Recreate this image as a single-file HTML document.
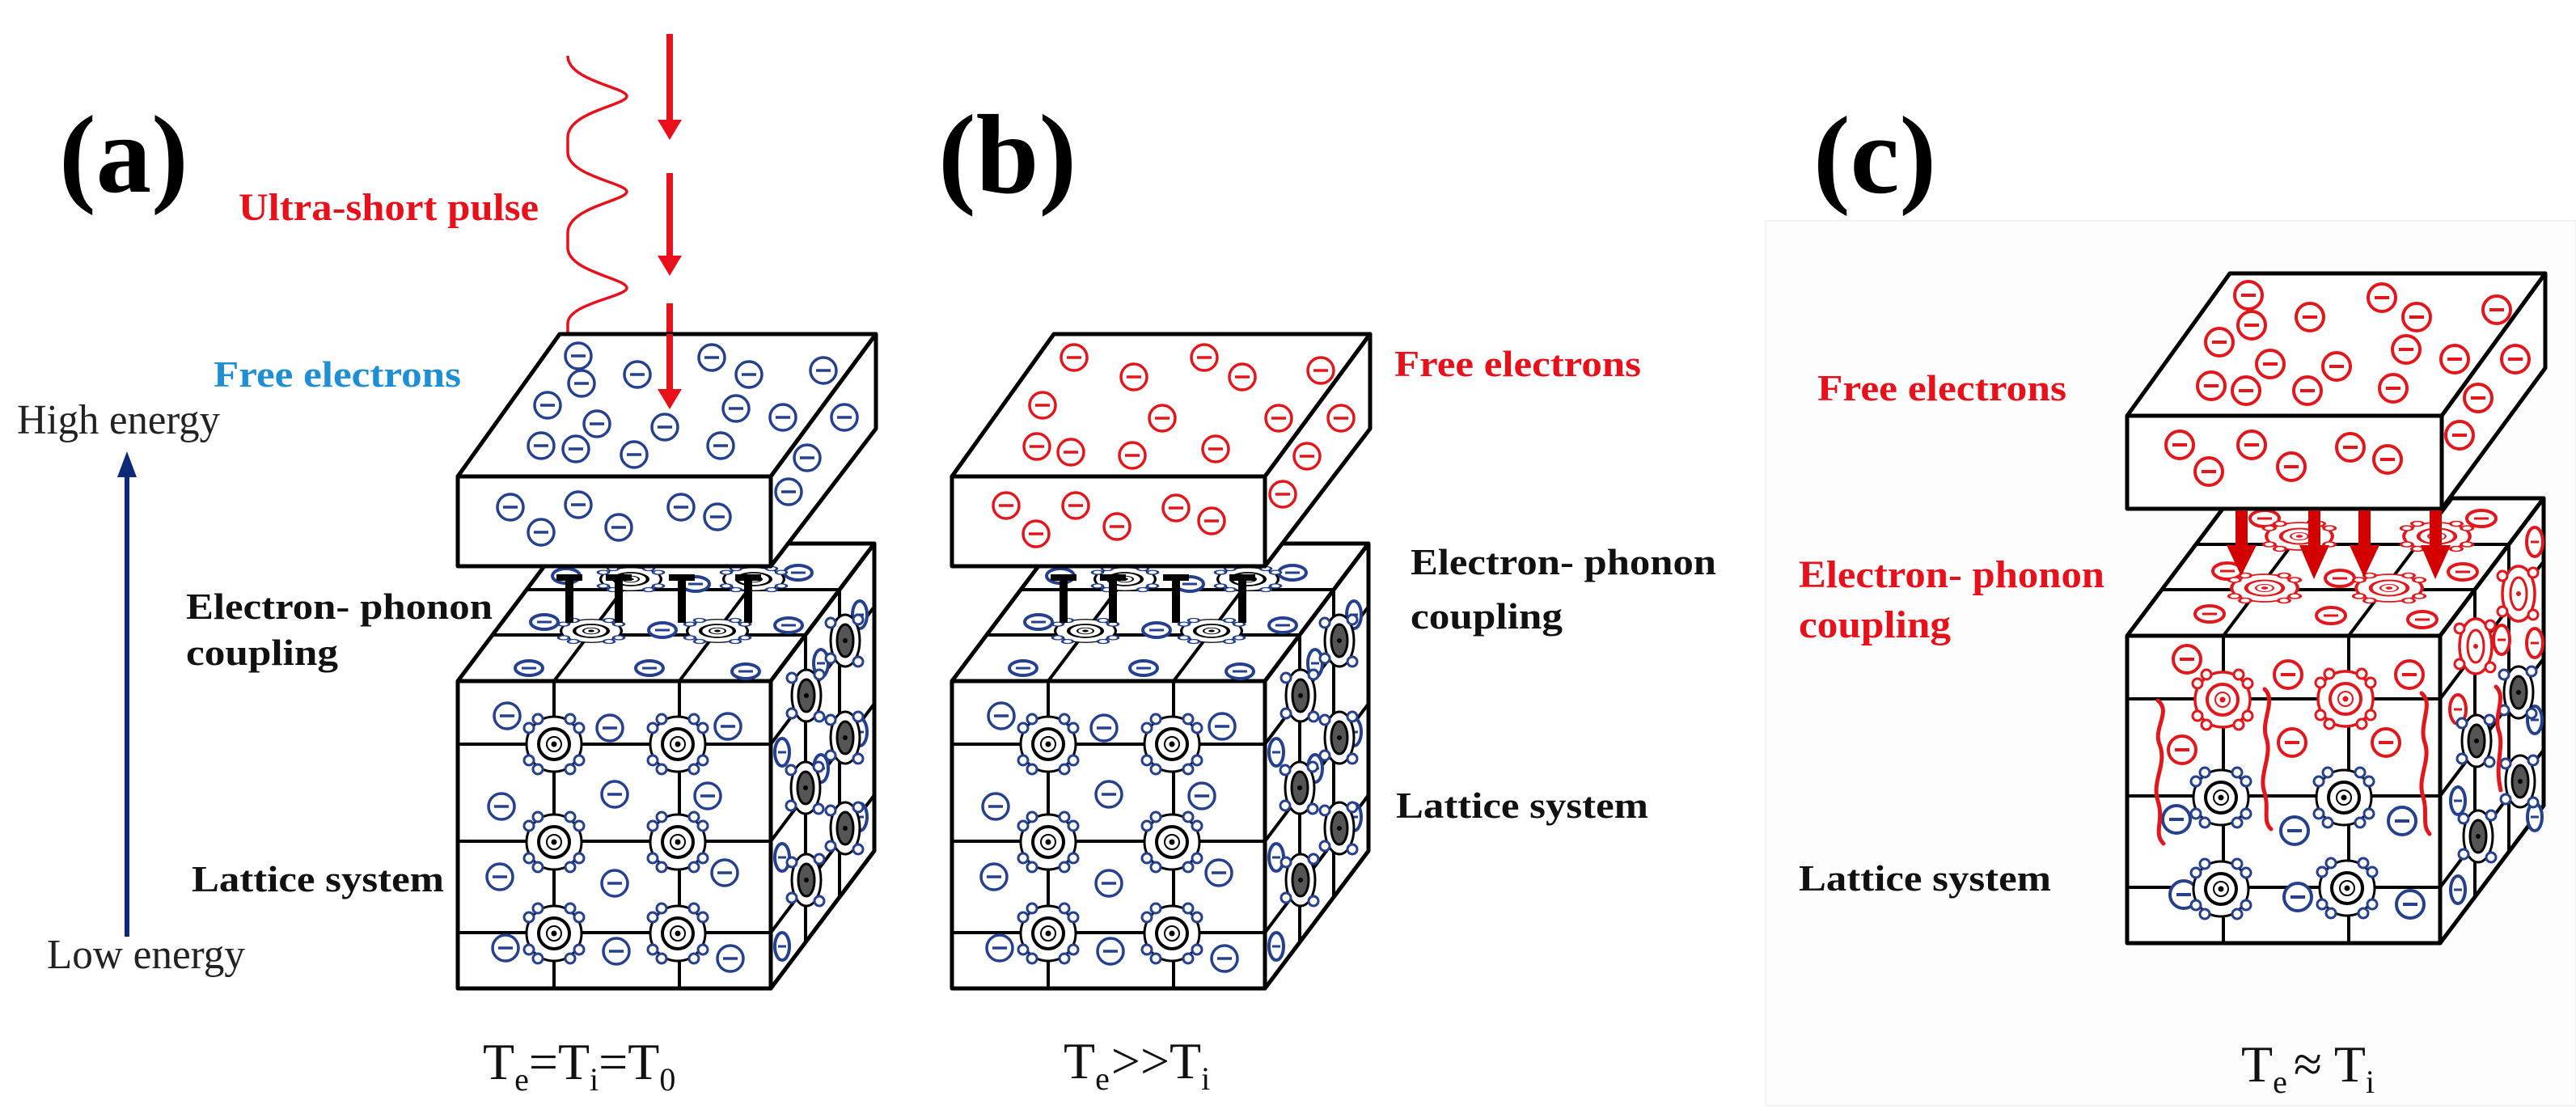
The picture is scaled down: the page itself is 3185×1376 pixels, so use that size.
<!DOCTYPE html>
<html><head><meta charset="utf-8">
<style>
html,body{margin:0;padding:0;background:#fff;}
svg{display:block;}
.lb{font-family:"Liberation Serif",serif;font-weight:bold;}
.rg{font-family:"Liberation Serif",serif;}
</style></head>
<body>
<svg width="3185" height="1376" viewBox="0 0 3185 1376" xmlns="http://www.w3.org/2000/svg">
<defs>
  <g id="eB"><circle r="16" fill="#fff" stroke="#24408e" stroke-width="3.5"/><line x1="-9" y1="0" x2="9" y2="0" stroke="#24408e" stroke-width="3.5"/></g>
  <g id="eR"><circle r="16" fill="#fff" stroke="#e3161b" stroke-width="3.5"/><line x1="-9" y1="0" x2="9" y2="0" stroke="#e3161b" stroke-width="3.5"/></g>
  <g id="eRc"><circle r="17" fill="#fff" stroke="#e3161b" stroke-width="4"/><line x1="-9" y1="0" x2="9" y2="0" stroke="#e3161b" stroke-width="4"/></g>
  <g id="eBc"><circle r="17" fill="#fff" stroke="#24408e" stroke-width="4"/><line x1="-9" y1="0" x2="9" y2="0" stroke="#24408e" stroke-width="4"/></g>
  <g id="fB"><ellipse rx="17" ry="9" fill="#fff" stroke="#24408e" stroke-width="4"/><line x1="-9" y1="0" x2="9" y2="0" stroke="#24408e" stroke-width="3"/></g>
  <g id="fR"><ellipse rx="18" ry="10" fill="#fff" stroke="#e3161b" stroke-width="4"/><line x1="-9" y1="0" x2="9" y2="0" stroke="#e3161b" stroke-width="3"/></g>
  <g id="vB"><ellipse rx="9" ry="17" fill="#fff" stroke="#24408e" stroke-width="4"/><line x1="-5" y1="0" x2="5" y2="0" stroke="#24408e" stroke-width="3"/></g>
  <g id="vR"><ellipse rx="10" ry="18" fill="#fff" stroke="#e3161b" stroke-width="4"/><line x1="-5" y1="0" x2="5" y2="0" stroke="#e3161b" stroke-width="3"/></g>
  <g id="atomB">
    <circle r="34" fill="#fff" stroke="#000" stroke-width="3"/>
    <circle r="19" fill="none" stroke="#000" stroke-width="4"/>
    <circle r="9" fill="none" stroke="#000" stroke-width="2"/>
    <circle r="3.5" fill="#000"/>
    <g fill="#fff" stroke="#24408e" stroke-width="3">
      <circle cx="-31" cy="-20" r="6"/><circle cx="-20" cy="-31" r="6"/>
      <circle cx="31" cy="-20" r="6"/><circle cx="20" cy="-31" r="6"/>
      <circle cx="-31" cy="20" r="6"/><circle cx="-20" cy="31" r="6"/>
      <circle cx="31" cy="20" r="6"/><circle cx="20" cy="31" r="6"/>
    </g>
  </g>
  <g id="atomR">
    <circle r="34" fill="#fff" stroke="#e3161b" stroke-width="3.5"/>
    <circle r="19" fill="none" stroke="#e3161b" stroke-width="4"/>
    <circle r="9" fill="none" stroke="#e3161b" stroke-width="2"/>
    <circle r="3.5" fill="#e3161b"/>
    <g fill="#fff" stroke="#e3161b" stroke-width="3">
      <circle cx="-31" cy="-20" r="6"/><circle cx="-20" cy="-31" r="6"/>
      <circle cx="31" cy="-20" r="6"/><circle cx="20" cy="-31" r="6"/>
      <circle cx="-31" cy="20" r="6"/><circle cx="-20" cy="31" r="6"/>
      <circle cx="31" cy="20" r="6"/><circle cx="20" cy="31" r="6"/>
    </g>
  </g>
  <g id="vAtomB">
    <ellipse rx="18" ry="32" fill="#fff" stroke="#000" stroke-width="3"/>
    <ellipse rx="10" ry="20" fill="#555" stroke="#000" stroke-width="3"/>
    <circle r="3" fill="#000"/>
    <g fill="#fff" stroke="#24408e" stroke-width="3">
      <circle cx="-18" cy="-22" r="6"/><circle cx="16" cy="-26" r="6"/>
      <circle cx="-18" cy="22" r="6"/><circle cx="16" cy="26" r="6"/>
    </g>
  </g>
  <g id="vAtomR">
    <ellipse rx="20" ry="34" fill="#fff" stroke="#e3161b" stroke-width="3.5"/>
    <ellipse rx="10" ry="20" fill="none" stroke="#e3161b" stroke-width="3"/>
    <circle r="3" fill="#e3161b"/>
    <g fill="#fff" stroke="#e3161b" stroke-width="3">
      <circle cx="-20" cy="-22" r="6"/><circle cx="18" cy="-26" r="6"/>
      <circle cx="-20" cy="22" r="6"/><circle cx="18" cy="26" r="6"/>
    </g>
  </g>
  <g id="frame">
    <g fill="#fff" stroke="#000" stroke-width="5" stroke-linejoin="round">
      <polygon points="566,842 953,842 1081,672 694,672"/>
      <polygon points="953,842 1081,672 1081,1052 953,1222"/>
      <rect x="566" y="842" width="387" height="380"/>
    </g>
    <path fill="none" stroke="#000" stroke-width="4" d="M685,842V1222 M840,842V1222 M566,920H953 M566,1040H953 M566,1153H953 M685,842L813,672 M840,842L968,672 M609,785H996 M651,729H1038 M953,920L1081,750 M953,1040L1081,870 M953,1153L1081,983 M996,785V1165 M1038,729V1109"/>
  </g>
  <g id="cubeA">
    <use href="#frame"/>
    <use href="#fB" x="673" y="769"/><use href="#fB" x="819" y="779"/><use href="#fB" x="975" y="773"/>
    <use href="#fB" x="654" y="826"/><use href="#fB" x="803" y="826"/><use href="#fB" x="922" y="830"/>
    <use href="#fB" x="987" y="708"/><use href="#fB" x="700" y="712"/><use href="#fB" x="860" y="722"/>
    <g transform="translate(731,780) scale(1.1,0.42)"><use href="#atomB"/></g>
    <g transform="translate(887,780) scale(1.1,0.42)"><use href="#atomB"/></g>
    <g transform="translate(780,716) scale(1.1,0.42)"><use href="#atomB"/></g>
    <g transform="translate(932,716) scale(1.1,0.42)"><use href="#atomB"/></g>
    <use href="#eB" x="627" y="885"/><use href="#eB" x="754" y="900"/><use href="#eB" x="900" y="898"/>
    <use href="#eB" x="620" y="997"/><use href="#eB" x="760" y="982"/><use href="#eB" x="875" y="984"/>
    <use href="#eB" x="618" y="1084"/><use href="#eB" x="760" y="1092"/><use href="#eB" x="896" y="1079"/>
    <use href="#eB" x="625" y="1172"/><use href="#eB" x="762" y="1176"/><use href="#eB" x="903" y="1185"/>
    <use href="#atomB" x="685" y="920"/><use href="#atomB" x="838" y="920"/>
    <use href="#atomB" x="685" y="1041"/><use href="#atomB" x="838" y="1041"/>
    <use href="#atomB" x="685" y="1154"/><use href="#atomB" x="838" y="1154"/>
    <use href="#vB" x="967" y="930"/><use href="#vB" x="1063" y="760"/><use href="#vB" x="1063" y="905"/>
    <use href="#vB" x="967" y="1060"/><use href="#vB" x="1015" y="950"/><use href="#vB" x="1063" y="1010"/>
    <use href="#vB" x="967" y="1170"/><use href="#vB" x="1015" y="820"/>
    <use href="#vAtomB" x="997" y="860"/><use href="#vAtomB" x="1045" y="792"/>
    <use href="#vAtomB" x="1045" y="912"/><use href="#vAtomB" x="996" y="974"/>
    <use href="#vAtomB" x="1045" y="1024"/><use href="#vAtomB" x="997" y="1088"/>
  </g>
  <g id="slabFrame" fill="#fff" stroke="#000" stroke-width="5" stroke-linejoin="round">
    <polygon points="566,589 953,589 1083,413 692,413"/>
    <polygon points="953,589 1083,413 1083,530 953,700"/>
    <rect x="566" y="589" width="387" height="111"/>
  </g>
  <g id="bars" fill="#000">
    <rect x="699" y="714" width="10" height="56"/><rect x="688" y="710" width="32" height="8"/>
    <rect x="760" y="714" width="10" height="56"/><rect x="749" y="710" width="32" height="8"/>
    <rect x="838" y="714" width="10" height="56"/><rect x="827" y="710" width="32" height="8"/>
    <rect x="920" y="714" width="10" height="56"/><rect x="909" y="710" width="32" height="8"/>
  </g>
</defs>

<rect width="3185" height="1376" fill="#fff"/>
<rect x="2183" y="273" width="1002" height="1094" fill="#fdfdfd" stroke="#f2f2f2" stroke-width="2"/>

<text class="lb" x="73" y="237" font-size="137">(a)</text>
<text class="lb" x="295" y="272" font-size="48" fill="#e8101a" textLength="371" lengthAdjust="spacingAndGlyphs">Ultra-short pulse</text>
<path d="M702,69 C702,100 775,108 775,119 C775,130 702,138 702,170 L702,188 C702,218 775,226 775,237 C775,248 702,256 702,288 L702,306 C702,336 775,344 775,356 C775,367 702,375 702,400 L702,413" fill="none" stroke="#e8101a" stroke-width="3.5"/>
<g fill="#e8101a">
  <rect x="824" y="42" width="8" height="110"/><polygon points="813,148 843,148 828,173"/>
  <rect x="824" y="214" width="8" height="106"/><polygon points="813,316 843,316 828,341"/>
  <rect x="824" y="375" width="8" height="110"/><polygon points="813,481 843,481 828,506"/>
</g>
<text class="lb" x="264" y="478" font-size="46" fill="#1e8fd5" textLength="306" lengthAdjust="spacingAndGlyphs">Free electrons</text>
<text class="rg" x="21" y="536" font-size="52" fill="#222" textLength="251" lengthAdjust="spacingAndGlyphs">High energy</text>
<line x1="157" y1="1158" x2="157" y2="585" stroke="#0d2a78" stroke-width="6"/>
<polygon points="145,590 169,590 157,558" fill="#0d2a78"/>
<text class="rg" x="58" y="1197" font-size="52" fill="#222" textLength="245" lengthAdjust="spacingAndGlyphs">Low energy</text>
<text class="lb" x="230" y="765" font-size="46" fill="#111" textLength="379" lengthAdjust="spacingAndGlyphs">Electron- phonon</text>
<text class="lb" x="230" y="822" font-size="46" fill="#111" textLength="188" lengthAdjust="spacingAndGlyphs">coupling</text>
<text class="lb" x="237" y="1102" font-size="46" fill="#111" textLength="312" lengthAdjust="spacingAndGlyphs">Lattice system</text>

<use href="#cubeA"/>
<use href="#slabFrame"/>
<g>
  <use href="#eB" x="715" y="440"/><use href="#eB" x="719" y="474"/><use href="#eB" x="788" y="463"/>
  <use href="#eB" x="880" y="442"/><use href="#eB" x="926" y="463"/><use href="#eB" x="1018" y="458"/>
  <use href="#eB" x="677" y="501"/><use href="#eB" x="738" y="524"/><use href="#eB" x="822" y="528"/>
  <use href="#eB" x="910" y="505"/><use href="#eB" x="968" y="516"/><use href="#eB" x="669" y="551"/>
  <use href="#eB" x="712" y="555"/><use href="#eB" x="784" y="562"/><use href="#eB" x="891" y="551"/>
  <use href="#eB" x="1044" y="516"/><use href="#eB" x="998" y="566"/><use href="#eB" x="975" y="608"/>
  <use href="#eB" x="631" y="627"/><use href="#eB" x="669" y="658"/><use href="#eB" x="715" y="624"/>
  <use href="#eB" x="765" y="652"/><use href="#eB" x="842" y="627"/><use href="#eB" x="887" y="639"/>
</g>
<use href="#bars"/>
<g fill="#e8101a"><rect x="824" y="413" width="8" height="72"/><polygon points="813,481 843,481 828,506"/></g>
<text class="rg" font-size="64" fill="#111" x="597" y="1334">T<tspan font-size="40" dy="14">e</tspan><tspan dy="-14">=T</tspan><tspan font-size="40" dy="14">i</tspan><tspan dy="-14">=T</tspan><tspan font-size="40" dy="14">0</tspan></text>

<text class="lb" x="1160" y="238" font-size="140">(b)</text>
<text class="lb" x="1724" y="465" font-size="46" fill="#e8101a" textLength="305" lengthAdjust="spacingAndGlyphs">Free electrons</text>
<text class="lb" x="1744" y="710" font-size="46" fill="#111" textLength="378" lengthAdjust="spacingAndGlyphs">Electron- phonon</text>
<text class="lb" x="1744" y="777" font-size="46" fill="#111" textLength="188" lengthAdjust="spacingAndGlyphs">coupling</text>
<text class="lb" x="1726" y="1011" font-size="46" fill="#111" textLength="312" lengthAdjust="spacingAndGlyphs">Lattice system</text>
<g transform="translate(611,0)">
  <use href="#cubeA"/>
  <use href="#slabFrame"/>
  <use href="#bars"/>
</g>
<g>
  <use href="#eR" x="1328" y="442"/><use href="#eR" x="1402" y="466"/><use href="#eR" x="1489" y="442"/>
  <use href="#eR" x="1536" y="466"/><use href="#eR" x="1633" y="458"/><use href="#eR" x="1289" y="501"/>
  <use href="#eR" x="1437" y="517"/><use href="#eR" x="1581" y="517"/><use href="#eR" x="1658" y="517"/>
  <use href="#eR" x="1282" y="552"/><use href="#eR" x="1324" y="559"/><use href="#eR" x="1400" y="563"/>
  <use href="#eR" x="1503" y="555"/><use href="#eR" x="1616" y="564"/><use href="#eR" x="1586" y="611"/>
  <use href="#eR" x="1244" y="625"/><use href="#eR" x="1281" y="660"/><use href="#eR" x="1330" y="625"/>
  <use href="#eR" x="1381" y="651"/><use href="#eR" x="1454" y="628"/><use href="#eR" x="1498" y="644"/>
</g>
<text class="rg" font-size="64" fill="#111" x="1315" y="1333">T<tspan font-size="40" dy="14">e</tspan><tspan dy="-14" dx="2">&gt;&gt;T</tspan><tspan font-size="40" dy="14">i</tspan></text>

<text class="lb" x="2242" y="238" font-size="137">(c)</text>
<text class="lb" x="2247" y="495" font-size="46" fill="#e8101a" textLength="308" lengthAdjust="spacingAndGlyphs">Free electrons</text>
<text class="lb" x="2224" y="726" font-size="48" fill="#e8101a" textLength="378" lengthAdjust="spacingAndGlyphs">Electron- phonon</text>
<text class="lb" x="2224" y="788" font-size="48" fill="#e8101a" textLength="188" lengthAdjust="spacingAndGlyphs">coupling</text>
<text class="lb" x="2224" y="1101" font-size="46" fill="#111" textLength="312" lengthAdjust="spacingAndGlyphs">Lattice system</text>

<g transform="translate(2064,-56)"><use href="#frame"/></g>
<use href="#fR" x="2732" y="759"/><use href="#fR" x="2882" y="761"/><use href="#fR" x="2995" y="766"/>
<use href="#fR" x="2754" y="706"/><use href="#fR" x="2893" y="715"/><use href="#fR" x="3045" y="707"/>
<use href="#fR" x="3068" y="641"/><use href="#fR" x="2800" y="641"/>
<g transform="translate(2843,663) scale(1.2,0.5)"><use href="#atomR"/></g>
<g transform="translate(3013,663) scale(1.2,0.5)"><use href="#atomR"/></g>
<g transform="translate(2800,727) scale(1.2,0.5)"><use href="#atomR"/></g>
<g transform="translate(2954,727) scale(1.2,0.5)"><use href="#atomR"/></g>
<use href="#eRc" x="2704" y="815"/><use href="#eRc" x="2829" y="834"/><use href="#eRc" x="2979" y="834"/>
<use href="#eRc" x="2698" y="927"/><use href="#eRc" x="2834" y="918"/><use href="#eRc" x="2950" y="918"/>
<use href="#eBc" x="2691" y="1013"/><use href="#eBc" x="2837" y="1027"/><use href="#eBc" x="2970" y="1015"/>
<use href="#eBc" x="2700" y="1106"/><use href="#eBc" x="2841" y="1109"/><use href="#eBc" x="2980" y="1118"/>
<use href="#atomR" x="2748" y="865"/><use href="#atomR" x="2900" y="864"/>
<use href="#atomB" x="2746" y="986"/><use href="#atomB" x="2898" y="986"/>
<use href="#atomB" x="2746" y="1099"/><use href="#atomB" x="2902" y="1098"/>
<use href="#vR" x="3134" y="670"/><use href="#vR" x="3134" y="795"/><use href="#vR" x="3039" y="877"/><use href="#vR" x="3093" y="791"/>
<use href="#vB" x="3039" y="990"/><use href="#vB" x="3134" y="890"/><use href="#vB" x="3134" y="1010"/><use href="#vB" x="3039" y="1100"/>
<use href="#vAtomR" x="3114" y="734"/><use href="#vAtomR" x="3061" y="799"/>
<use href="#vAtomB" x="3114" y="856"/><use href="#vAtomB" x="3062" y="916"/>
<use href="#vAtomB" x="3116" y="966"/><use href="#vAtomB" x="3064" y="1034"/>
<g fill="none" stroke="#e3161b" stroke-width="5" stroke-linecap="round">
  <path d="M2668,866 C2685,880 2662,900 2670,920 C2680,945 2660,965 2668,990 C2676,1015 2662,1030 2675,1043"/>
  <path d="M2800,852 C2815,866 2795,890 2802,912 C2810,935 2792,958 2800,980 C2806,1000 2797,1015 2808,1025"/>
  <path d="M2994,857 C3010,870 2990,895 2998,918 C3006,940 2988,962 2996,985 C3002,1005 2994,1020 3004,1031"/>
  <path d="M3086,849 C3100,862 3082,885 3090,905 C3096,925 3084,945 3092,977"/>
</g>
<g fill="#fff" stroke="#000" stroke-width="5" stroke-linejoin="round">
  <polygon points="2630,514 3019,514 3147,338 2757,338"/>
  <polygon points="3019,514 3147,338 3147,455 3019,629"/>
  <rect x="2630" y="514" width="389" height="115"/>
</g>
<g>
  <use href="#eRc" x="2780" y="365"/><use href="#eRc" x="2784" y="402"/><use href="#eRc" x="2856" y="392"/>
  <use href="#eRc" x="2945" y="368"/><use href="#eRc" x="2988" y="392"/><use href="#eRc" x="3087" y="383"/>
  <use href="#eRc" x="2744" y="423"/><use href="#eRc" x="2807" y="450"/><use href="#eRc" x="2889" y="453"/>
  <use href="#eRc" x="2975" y="432"/><use href="#eRc" x="3035" y="444"/><use href="#eRc" x="2734" y="477"/>
  <use href="#eRc" x="2777" y="483"/><use href="#eRc" x="2853" y="483"/><use href="#eRc" x="2959" y="480"/>
  <use href="#eRc" x="3110" y="444"/><use href="#eRc" x="3064" y="492"/><use href="#eRc" x="3041" y="538"/>
  <use href="#eRc" x="2695" y="550"/><use href="#eRc" x="2731" y="583"/><use href="#eRc" x="2784" y="550"/>
  <use href="#eRc" x="2833" y="577"/><use href="#eRc" x="2906" y="553"/><use href="#eRc" x="2952" y="568"/>
</g>
<g fill="#d40000">
  <rect x="2764" y="631" width="15" height="46"/><polygon points="2753,674 2790,674 2771,712"/>
  <rect x="2854" y="631" width="15" height="46"/><polygon points="2843,674 2880,674 2861,716"/>
  <rect x="2916" y="631" width="15" height="46"/><polygon points="2905,674 2942,674 2923,714"/>
  <rect x="3004" y="631" width="15" height="46"/><polygon points="2993,674 3030,674 3011,716"/>
</g>
<text class="rg" font-size="64" fill="#111" x="2771" y="1337">T<tspan font-size="40" dy="14">e</tspan><tspan dy="-14" dx="8">≈ T</tspan><tspan font-size="40" dy="14">i</tspan></text>
</svg>
</body></html>
